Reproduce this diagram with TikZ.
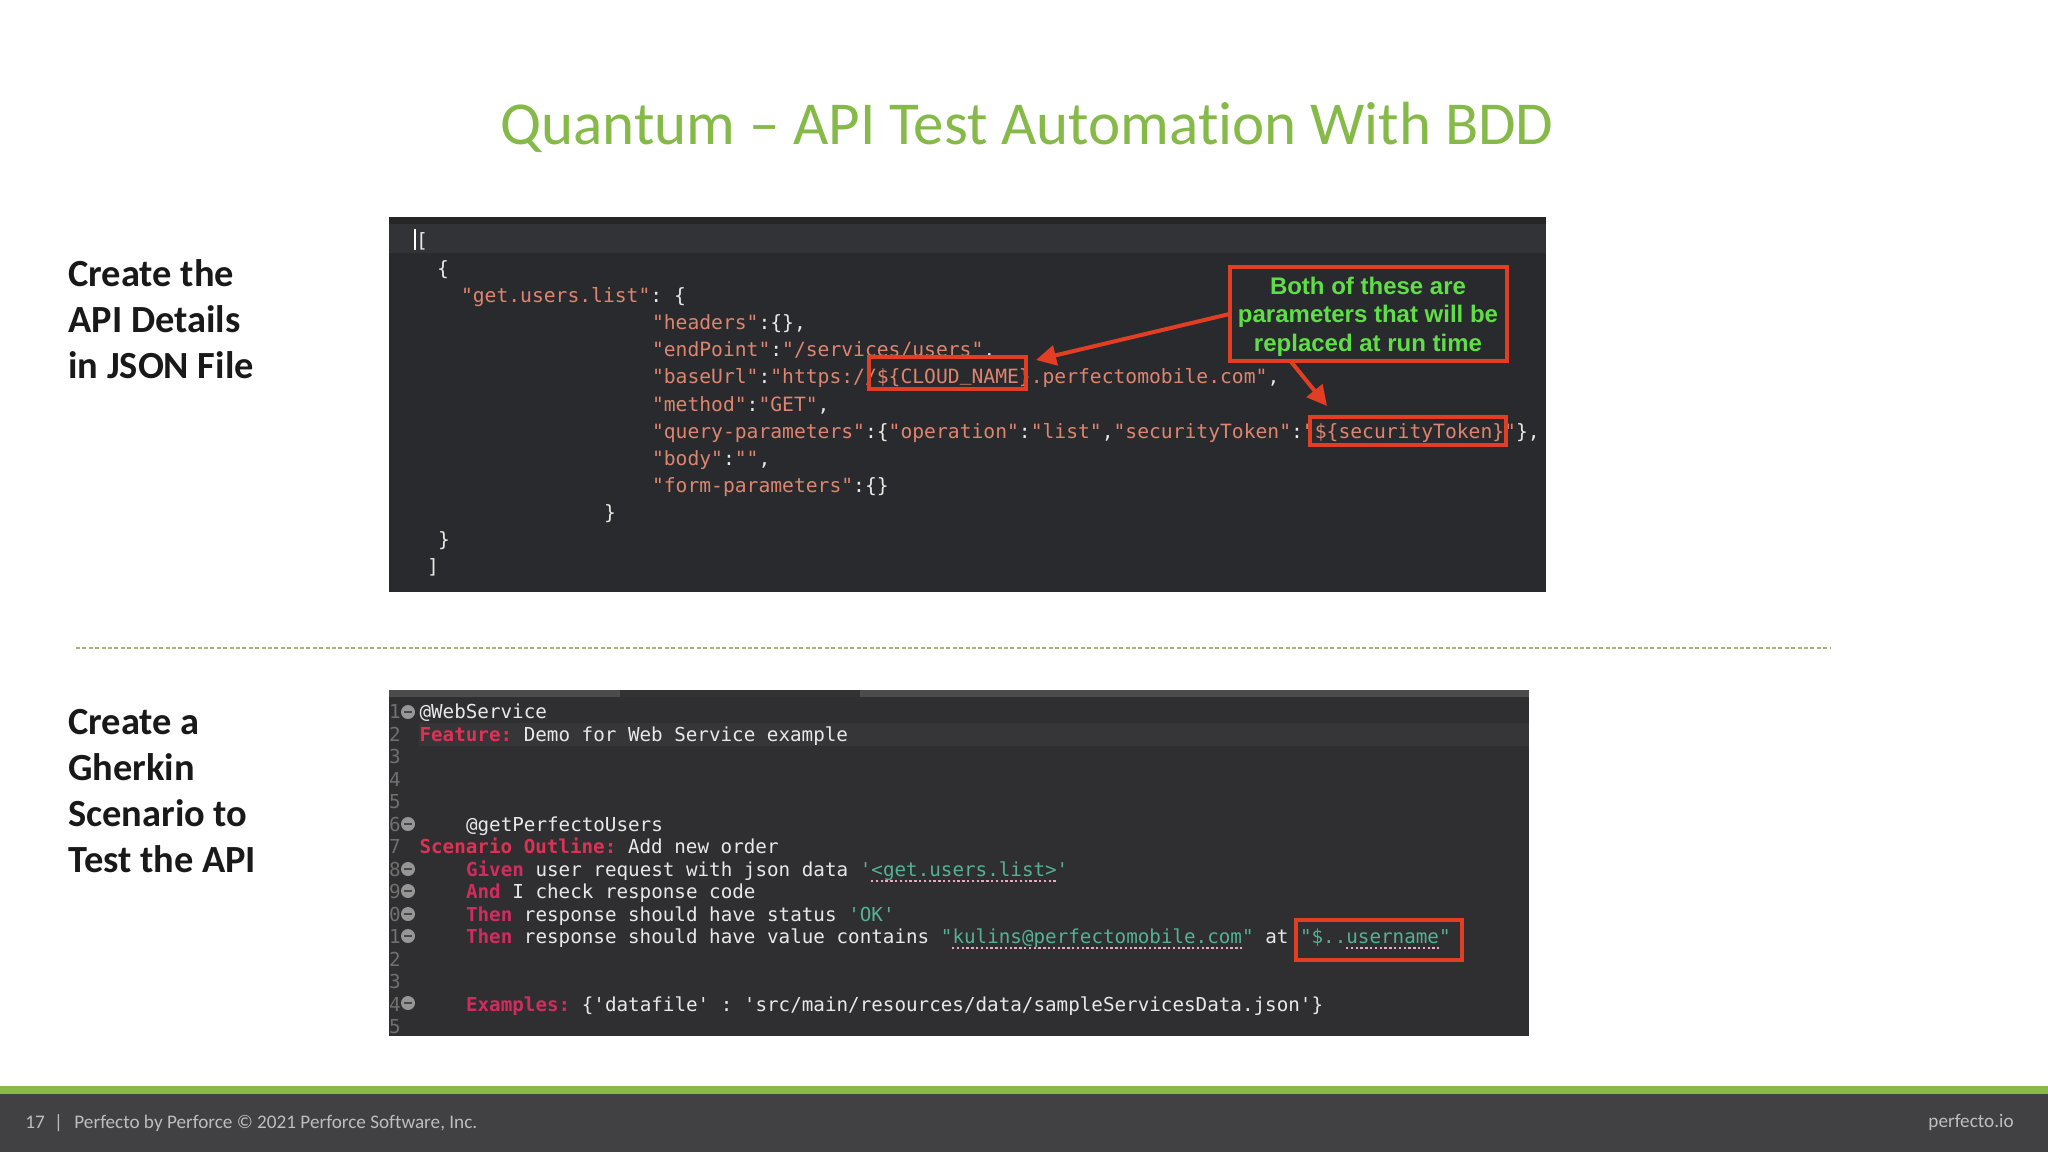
\documentclass[tikz,border=0pt]{standalone}
\usepackage{fontspec}
\setmainfont{Carlito}[Ligatures=NoCommon]
\newfontfamily\codefont{DejaVu Sans Mono}
\newfontfamily\notefont{Liberation Sans}
\usetikzlibrary{arrows.meta,calc}
\definecolor{perfgreen}{RGB}{137,186,69}
\definecolor{titlegreen}{RGB}{133,186,72}
\definecolor{footerbg}{RGB}{65,64,66}
\definecolor{footertext}{RGB}{190,190,190}
\definecolor{panela}{RGB}{41,42,45}
\definecolor{panelarow}{RGB}{50,51,55}
\definecolor{panelb}{RGB}{47,47,49}
\definecolor{panelbrow}{RGB}{54,54,56}
\definecolor{jsstr}{RGB}{222,133,112}
\definecolor{codewhite}{RGB}{232,232,232}
\definecolor{kw}{RGB}{208,45,95}
\definecolor{kwtop}{RGB}{222,50,85}
\definecolor{strteal}{RGB}{84,178,145}
\definecolor{redbox}{RGB}{226,62,36}
\definecolor{notegreen}{RGB}{96,222,72}
\definecolor{gutter}{RGB}{112,112,112}
\definecolor{foldgray}{RGB}{150,150,150}
\definecolor{foldbar}{RGB}{72,72,72}
\definecolor{wavy}{RGB}{232,170,190}
\definecolor{dashgreen}{RGB}{170,180,120}
\newcommand{\js}[1]{\textcolor{jsstr}{#1}}
\newcommand{\kwd}[1]{\textcolor{kw}{\bfseries #1}}
\newcommand{\tl}[1]{\textcolor{strteal}{#1}}
\tikzset{
  x=0.5pt,y=-0.5pt,
  jline/.style={anchor=base west,inner sep=0pt,outer sep=0pt,text=codewhite,font=\codefont\fontsize{9.83}{12}\selectfont\frenchspacing},
  gline/.style={anchor=base west,inner sep=0pt,outer sep=0pt,text=codewhite,font=\codefont\fontsize{9.62}{12}\selectfont\frenchspacing},
  gnum/.style={anchor=base west,inner sep=0pt,outer sep=0pt,text=gutter,font=\codefont\fontsize{9.62}{12}\selectfont},
  hibox/.style={draw=redbox,line width=2pt,inner sep=0pt,outer sep=0pt},
  callout/.style={-{Triangle[length=10pt,width=10pt]},draw=redbox,fill=redbox,line width=2pt},
  sidelabel/.style={anchor=north west,inner sep=0pt,align=left,font=\bfseries\fontsize{19.2}{23}\selectfont,text=black!90},
  wavyline/.style={draw=wavy,line width=1pt,dash pattern=on 1.2pt off 1.2pt},
}
\begin{document}
\begin{tikzpicture}
\useasboundingbox (0,0) rectangle (2048,1152);
\fill[white] (0,0) rectangle (2048,1152);
% title
\node[inner sep=0pt,text=titlegreen,font=\fontsize{30.5}{34}\selectfont] (title) at (1027,127) {Quantum – API Test Automation With BDD};
% side labels
\node[sidelabel] (lab1) at (68,259) {Create the\\API Details\\in JSON File};
\node[sidelabel] (lab2) at (68,709) {Create a\\Gherkin\\Scenario to\\Test the API};
% JSON panel
\fill[panela] (389,217) rectangle (1546,592);
\fill[panelarow] (389,224) rectangle (1546,253);
\fill[black!85] (389,217) rectangle (1546,224);
\draw[white,line width=1pt] (415,229) -- (415,250);
\node[jline] (j1) at (416,247) {[};
\node[jline] (j2) at (437,275) {\{};
\node[jline] (j3) at (461,302) {\js{"get.users.list"}: \{};
\node[jline] (j4) at (652,329) {\js{"headers"}:\{\},};
\node[jline] (j5) at (652,356) {\js{"endPoint"}:\js{"/services/users"},};
\node[jline] (j6) at (652,383) {\js{"baseUrl"}:\js{"https://\$\{CLOUD\raisebox{1.2pt}{\_}NAME\}.perfectomobile.com"},};
\node[jline] (j7) at (652,411) {\js{"method"}:\js{"GET"},};
\node[jline] (j8) at (652,438) {\js{"query-parameters"}:\{\js{"operation"}:\js{"list"},\js{"securityToken"}:\js{"\$\{securityToken\}"}\},};
\node[jline] (j9) at (652,465) {\js{"body"}:\js{""},};
\node[jline] (j10) at (652,492) {\js{"form-parameters"}:\{\}};
\node[jline] (j11) at (604,519) {\}};
\node[jline] (j12) at (438,546) {\}};
\node[jline] (j13) at (427,573) {]};
% JSON highlights
\node[hibox,minimum width=78.5pt,minimum height=16pt] (cloud) at (947,373) {};
\node[hibox,minimum width=98pt,minimum height=14pt] (token) at (1408,431) {};
\node[hibox,minimum width=138.5pt,minimum height=47pt,align=center,text=notegreen,font=\notefont\bfseries\fontsize{12}{14.4}\selectfont] (note) at (1368,314) {\rule{0pt}{11.3pt}Both of these are\\parameters that will be\\replaced at run time};
\coordinate (cloudtip) at (1036,360);
\coordinate (tokentip) at (1327,406);
\coordinate (notefoot) at ($(note.south west)!0.22!(note.south east)$);
\draw[callout] (note.west) -- (cloudtip);
\draw[callout] (notefoot) -- (tokentip);
% Gherkin panel
\fill[panelb] (389,690) rectangle (1529,1036);
\fill[panelbrow] (419,723) rectangle (1529,746);
\fill[black!70] (389,690) rectangle (1529,697);
\fill[black!80] (620,690) rectangle (860,697);
\foreach \n/\d/\yy in {n1/1/718,n2/2/741,n3/3/763,n4/4/786,n5/5/808,n6/6/831,n7/7/853,n8/8/876,n9/9/898,n10/0/921,n11/1/943,n12/2/966,n13/3/988,n14/4/1011,n15/5/1033}{
  \begin{scope}
  \clip (389,690) rectangle (1529,1036);
  \node[gnum] (\n) at (389,\yy) {\d};
  \end{scope}
}
\foreach \yy in {712,824,869,891,914,936,1003}{
  \fill[foldgray] (408,\yy) circle (7);
  \fill[foldbar] (404,\yy-1.2) rectangle (412,\yy+1.2);
}
\node[gline] (g1) at (419.5,718) {@WebService};
\node[gline] (g2) at (419.5,741) {\textcolor{kwtop}{\bfseries Feature:} Demo for Web Service example};
\node[gline] (g6) at (466,831) {@getPerfectoUsers};
\node[gline] (g7) at (419.5,853) {\textcolor{kwtop}{\bfseries Scenario Outline:} Add new order};
\node[gline] (g8) at (466,876) {\kwd{Given} user request with json data \tl{'<get.users.list>'}};
\node[gline] (g9) at (466,898) {\kwd{And} I check response code};
\node[gline] (g10) at (466,921) {\kwd{Then} response should have status \tl{'OK'}};
\node[gline] (g11) at (466,943) {\kwd{Then} response should have value contains \tl{"kulins@perfectomobile.com"} at \tl{"\$..username"}};
\node[gline] (g14) at (466,1011) {\kwd{Examples:} \{'datafile' : 'src/main/resources/data/sampleServicesData.json'\}};
\draw[wavyline] (871,881) -- (1056,881);
\draw[wavyline] (952,948) -- (1242,948);
\draw[wavyline] (1346,948) -- (1439,948);
\node[hibox,minimum width=83pt,minimum height=20pt] (user) at (1379,940) {};
% divider
\coordinate (divl) at (76,648);
\coordinate (divr) at (1830,648);
\draw[dashgreen,line width=0.6pt,dash pattern=on 2pt off 1.2pt] (divl) -- (divr);
% footer
\fill[footerbg] (0,1094) rectangle (2048,1152);
\fill[perfgreen] (0,1086) rectangle (2048,1094);
\node[anchor=base west,inner sep=0pt,text=footertext,font=\fontsize{9.6}{11}\selectfont] (foot1) at (25,1128) {17\hspace{3pt}\,|\hspace{2pt}\, Perfecto by Perforce © 2021 Perforce Software, Inc.};
\node[anchor=base east,inner sep=0pt,text=footertext,font=\fontsize{9.6}{11}\selectfont] (foot2) at (2014,1127) {perfecto.io};
\end{tikzpicture}
\end{document}
